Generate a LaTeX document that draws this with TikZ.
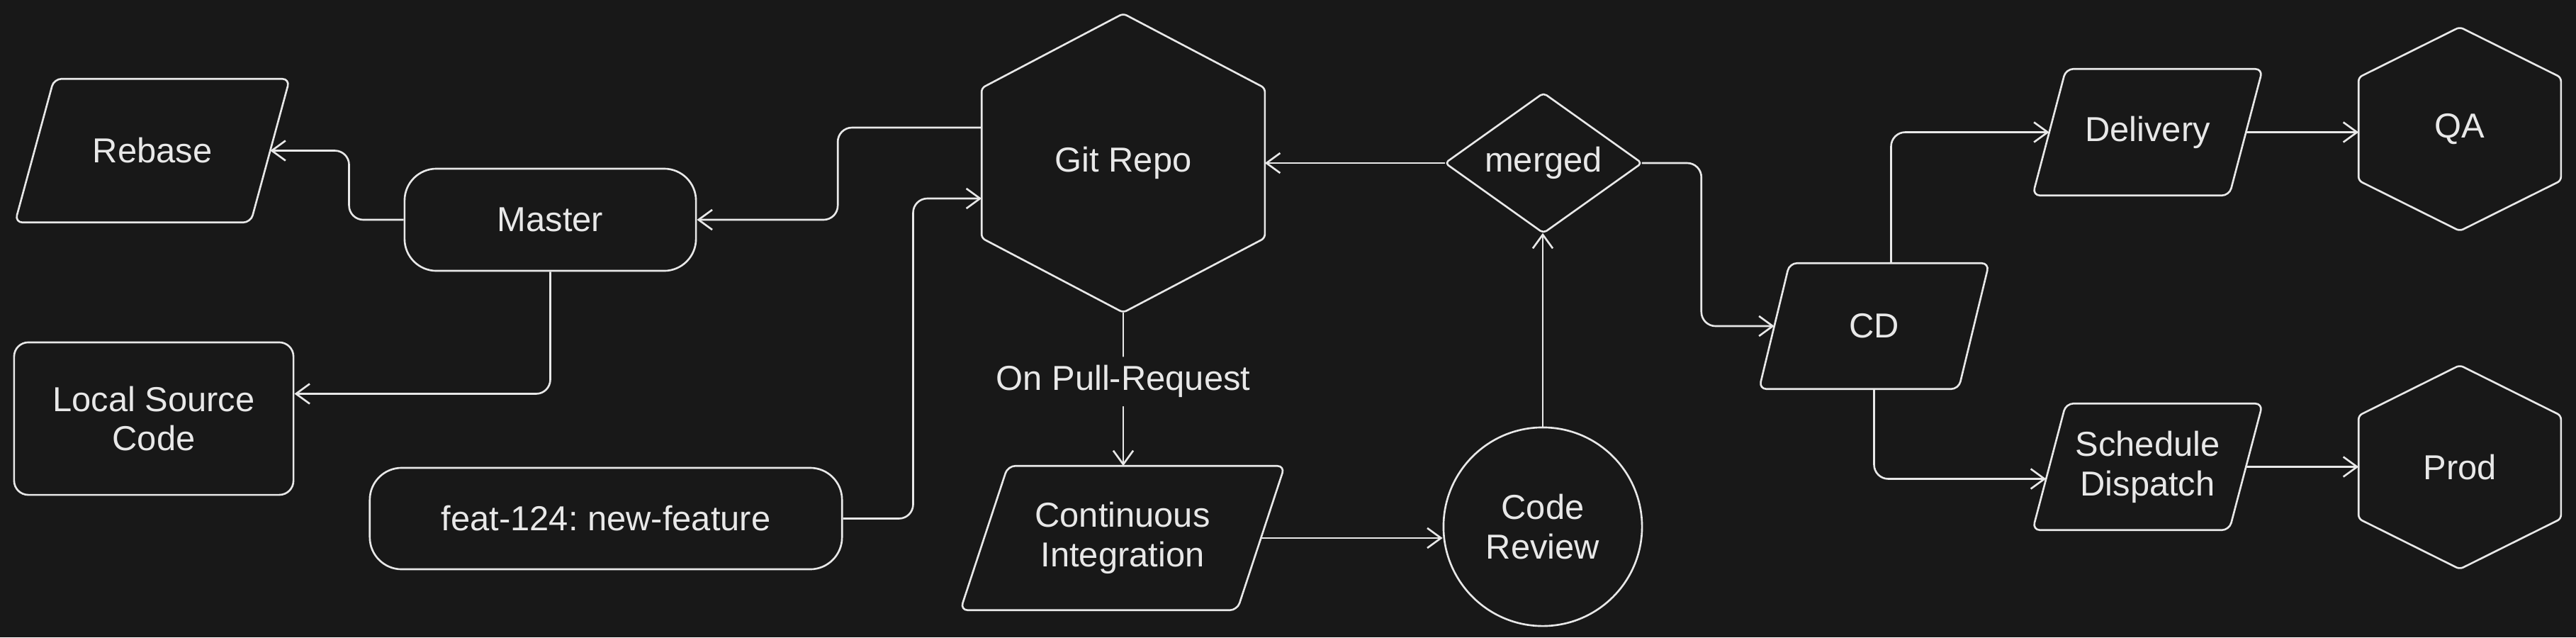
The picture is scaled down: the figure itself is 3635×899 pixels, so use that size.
\documentclass[tikz,border=0pt]{standalone}
\usepackage{fontspec}
\setmainfont{Liberation Sans}
\usetikzlibrary{shapes.geometric,arrows.meta,calc}
\definecolor{bgc}{RGB}{24,24,24}
\definecolor{fgc}{RGB}{232,232,232}
\frenchspacing
\newcommand\dfont{\fontsize{13.9pt}{15.9pt}\selectfont}
\newcommand\paraline[2]{\draw[paraoutline] (#1.south west) -- ($(#1.south east)+(-#2,0)$) -- (#1.north east) -- ($(#1.north west)+(#2,0)$) -- cycle;}
\begin{document}
\begin{tikzpicture}[x=0.01cm,y=-0.01cm,
  every node/.style={text=fgc,font=\dfont,align=center,inner sep=0pt},
  lw/.style={line width=0.75pt},
  rbox/.style={rectangle,draw=fgc,lw},
  ghost/.style={rectangle,draw=none},
  shapeline/.style={draw=fgc,lw,rounded corners=1.5pt,line join=round},
  paraoutline/.style={draw=fgc,lw,rounded corners=3pt,line join=round},
  conn/.style={draw=fgc,lw,rounded corners=0.2cm,-{Straight Barb[length=5.5pt,width=8pt]}},
  edgelabel/.style={fill=bgc,inner xsep=3pt,inner ysep=0.12cm}
]
\fill[bgc] (0,0) rectangle (3635,899);
\useasboundingbox (0,0) rectangle (3635,899);

% parallelograms
\node[ghost,minimum width=3.86cm,minimum height=2.01cm] (rebase) at (215,212.5) {Rebase};
\paraline{rebase}{55}
\node[ghost,minimum width=4.56cm,minimum height=2.02cm] (ci) at (1584,759) {Continuous\\Integration};
\paraline{ci}{67}
\node[ghost,minimum width=3.23cm,minimum height=1.77cm] (deliv) at (3030.5,186.5) {Delivery};
\paraline{deliv}{47}
\node[ghost,minimum width=3.23cm,minimum height=1.77cm] (sched) at (3030.5,658.5) {Schedule\\Dispatch};
\paraline{sched}{47}
\node[ghost,minimum width=3.23cm,minimum height=1.76cm] (cd) at (2644.5,460) {CD};
\paraline{cd}{43}

% rounded boxes
\node[rbox,rounded corners=0.45cm,minimum width=4.11cm,minimum height=1.44cm] (master) at (776.5,310) {Master};
\node[rbox,rounded corners=0.2cm,minimum width=3.94cm,minimum height=2.15cm] (local) at (217,590.5) {Local Source\\Code};
\node[rbox,rounded corners=0.45cm,minimum width=6.66cm,minimum height=1.43cm] (feat) at (855,731.5) {feat-124: new-feature};

% hexagons
\node[ghost,minimum width=3.98cm,minimum height=4.2cm] (git) at (1585,230) {Git Repo};
\draw[shapeline] (git.north) -- ($(git.north east)+(0,105)$) -- ($(git.south east)+(0,-105)$)
  -- (git.south) -- ($(git.south west)+(0,-105)$) -- ($(git.north west)+(0,105)$) -- cycle;
\node[ghost,minimum width=2.84cm,minimum height=2.86cm] (qa) at (3471,182) {QA};
\draw[shapeline] (qa.north) -- ($(qa.north east)+(0,71)$) -- ($(qa.south east)+(0,-71)$)
  -- (qa.south) -- ($(qa.south west)+(0,-71)$) -- ($(qa.north west)+(0,71)$) -- cycle;
\node[ghost,minimum width=2.84cm,minimum height=2.86cm] (prod) at (3471,659) {Prod};
\draw[shapeline] (prod.north) -- ($(prod.north east)+(0,71)$) -- ($(prod.south east)+(0,-71)$)
  -- (prod.south) -- ($(prod.south west)+(0,-71)$) -- ($(prod.north west)+(0,71)$) -- cycle;

% diamond
\node[ghost,minimum width=2.76cm,minimum height=1.96cm] (merged) at (2178,230) {merged};
\draw[shapeline] (merged.north) -- (merged.east) -- (merged.south) -- (merged.west) -- cycle;

% circle
\node[circle,draw=fgc,lw,minimum size=2.8cm] (cr) at (2177,743) {Code\\Review};

% connectors
\draw[conn] (master.west) -- ++(-77,0) |- ($(rebase.east)+(-27.5,0)$);
\draw[conn] (master.south) |- ($(local.east)+(0,-35)$);
\draw[conn] ($(git.west)+(0,-50)$) -- ++(-203,0) |- (master.east);
\draw[conn] (feat.east) -- ++(99,0) |- ($(git.west)+(0,50)$);
\draw[conn] (git.south) -- node[pos=0.45,edgelabel] {On Pull-Request} (git.south |- ci.north);
\draw[conn] ($(ci.east)+(-33.5,0)$) -- (ci.east -| cr.west);
\draw[conn] (cr.north) -- (cr.north |- merged.south);
\draw[conn] (merged.west) -- (git.east);
\draw[conn] (merged.east) -- ++(84,0) |- ($(cd.west)+(21.5,0)$);
\draw[conn] ($(cd.north)+(24,0)$) |- ($(deliv.west)+(23.5,0)$);
\draw[conn] (cd.south) |- ($(sched.west)+(19,17)$);
\draw[conn] ($(deliv.east)+(-23.5,0)$) -- (deliv.east -| qa.west);
\draw[conn] ($(sched.east)+(-23.5,0)$) -- (sched.east -| prod.west);
\end{tikzpicture}
\end{document}
